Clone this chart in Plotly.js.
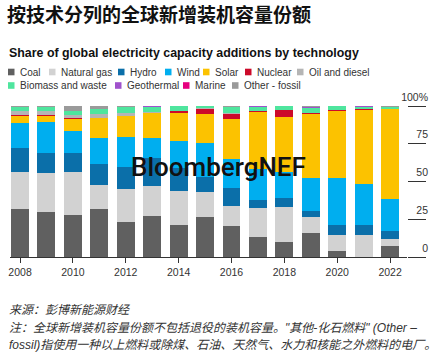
<!DOCTYPE html>
<html><head><meta charset="utf-8">
<script src="https://cdn.plot.ly/plotly-3.0.1.min.js"></script>
<style>html,body{margin:0;padding:0;background:#fff;}#chart{width:441px;height:359px;}</style>
</head><body><div id="chart"></div>
<script>
const years = [2008,2009,2010,2011,2012,2013,2014,2015,2016,2017,2018,2019,2020,2021,2022];
const coal        = [32.0,29.6,27.5,32.1,22.9,27.1,21.5,26.6,20.4,13.3,10.0,16.2, 3.8, 0.3, 7.1];
const naturalGas  = [24.0,26.3,29.0,15.6,21.9,20.2,22.5,16.6,13.4,19.3,22.8,10.4,10.6,14.1, 5.1];
const hydro       = [16.4,12.8,12.2,13.7,14.9,18.1,14.7, 9.6,12.2, 5.1, 6.4, 4.0, 6.7, 6.7, 5.1];
const wind        = [16.6,20.4,14.9,17.6,19.8,13.1,18.2,22.4,18.6,20.3,16.8,21.9,31.0,27.0,21.1];
const solar       = [ 4.5, 4.4, 7.9,12.9,13.7,16.7,18.4,19.7,26.8,38.0,36.7,41.9,44.8,49.0,59.3];
const nuclear     = [ 0.3, 0.3, 0.3, 0.3, 0.2, 0.3, 1.3, 3.4, 3.5, 0.8, 4.4, 0.8, 0.3, 0.8, 0.2];
const oilDiesel   = [ 2.7, 2.7, 2.2, 2.5, 2.1, 0.8, 0.2, 0.2, 0.4, 0.2, 0.3, 0.3, 0.2, 0.2, 0.2];
const biomass     = [ 2.7, 2.8, 2.7, 3.1, 3.9, 3.2, 3.0, 1.3, 4.0, 2.6, 2.3, 3.5, 2.4, 1.3, 1.2];
const geothermal  = [ 0.3, 0.2, 0.2, 0.2, 0.2, 0.2, 0.2, 0.1, 0.2, 0.2, 0.2, 0.3, 0.2, 0.3, 0.3];
const marine      = [ 0.0, 0.0, 0.0, 0.0, 0.0, 0.0, 0.0, 0.0, 0.0, 0.0, 0.0, 0.0, 0.0, 0.0, 0.0];
const otherFossil = [ 0.5, 0.5, 3.1, 2.0, 0.4, 0.3, 0.0, 0.1, 0.5, 0.2, 0.1, 0.7, 0.0, 0.3, 0.4];

const seriesNames = ['Coal','Natural gas','Hydro','Wind','Solar','Nuclear','Oil and diesel','Biomass and waste','Geothermal','Marine','Other - fossil'];
const seriesValues = [coal,naturalGas,hydro,wind,solar,nuclear,oilDiesel,biomass,geothermal,marine,otherFossil];
const seriesColors = ['#606060','#d2d2d2','#0b6fa9','#00aeef','#fcc200','#cc0a2a','#b5b5b5','#4fe59e','#a052cc','#e6007e','#9a9a9a'];

const yTickVals = [0,25,50,75,100];
const yTickText = ['0','25','50','75','100%'];

const titleText = '按技术分列的全球新增装机容量份额';
const subtitleText = 'Share of global electricity capacity additions by technology';
const sourceLines = ['来源：彭博新能源财经',
  '注：全球新增装机容量份额不包括退役的装机容量。"其他-化石燃料" (Other –',
  'fossil)指使用一种以上燃料或除煤、石油、天然气、水力和核能之外燃料的电厂。'];

// layout geometry (pixels)
const W=441,H=359,L=10,R=0,T=106,B=102;
const plotW=W-L-R, plotH=H-T-B;
const px = x => (x-L)/plotW;
const py = y => (H-B-y)/plotH;
const latin = 'Liberation Sans, Arial, sans-serif';
const cjk = 'Liberation Sans, Noto Sans CJK SC, sans-serif';

const traces = seriesNames.map((n,i)=>({
  type:'bar', x:years, y:seriesValues[i], name:n, width:0.68,
  marker:{color:seriesColors[i], line:{width:0}}, hoverinfo:'skip', showlegend:false
}));
// invisible helper trace carrying the label axis
traces.push({type:'scatter',x:[years[0]],y:[0],yaxis:'y2',mode:'markers',marker:{opacity:0},hoverinfo:'skip',showlegend:false});

const legendRows = [[0,1,2,3,4,5,6],[7,8,9,10]];
const legendX = [[8,49,118,165,203,245,297],[8,115,183,232]];
const legendY = [72,85.5];
const shapes=[], annotations=[];
legendRows.forEach((row,r)=>{
  row.forEach((idx,k)=>{
    const x0=legendX[r][k], yc=legendY[r];
    shapes.push({type:'rect',xref:'paper',yref:'paper',x0:px(x0),x1:px(x0+6.5),y0:py(yc+3.3),y1:py(yc-3.3),fillcolor:seriesColors[idx],line:{width:0}});
    annotations.push({xref:'paper',yref:'paper',x:px(x0+9.5),y:py(yc),xanchor:'left',yanchor:'middle',showarrow:false,text:seriesNames[idx],font:{family:latin,size:10,color:'#333'}});
  });
});
annotations.push({xref:'paper',yref:'paper',x:px(7),y:py(52.5),xanchor:'left',yanchor:'middle',showarrow:false,text:'<b>'+subtitleText+'</b>',font:{family:latin,size:12.4,color:'#111'}});
annotations.push({xref:'paper',yref:'paper',x:px(218),y:py(167),xanchor:'center',yanchor:'middle',showarrow:false,text:'BloombergNEF',font:{family:'Roboto, Liberation Sans, sans-serif',size:26,weight:500,color:'#111'}});
const srcY=[310,327.5,345];
sourceLines.forEach((t,i)=>annotations.push({xref:'paper',yref:'paper',x:px(7),y:py(srcY[i]),xanchor:'left',yanchor:'middle',showarrow:false,text:'<i>'+t+'</i>',font:{family:cjk,size:12,color:'#333'}}));

const layout = {
  width:W,height:H,margin:{l:L,r:R,t:T,b:B,pad:0},
  paper_bgcolor:'#fff',plot_bgcolor:'rgba(0,0,0,0)',barmode:'stack',showlegend:false,
  title:{text:'<b>'+titleText+'</b>',xref:'container',yref:'container',x:7/W,xanchor:'left',y:1-15/H,yanchor:'middle',font:{family:'Noto Sans CJK SC, sans-serif',size:19,color:'#111'}},
  xaxis:{domain:[0,397/plotW],range:[2007.62,2022.64],tickmode:'linear',tick0:2008,dtick:2,ticks:'outside',ticklen:5,tickcolor:'#333',tickwidth:1,
    showline:true,linecolor:'#333',linewidth:1,showgrid:false,zeroline:false,tickfont:{family:latin,size:10.5,color:'#333'},fixedrange:true},
  yaxis:{range:[0,100],anchor:'free',position:(426-L)/plotW,side:'left',tickmode:'array',tickvals:yTickVals,ticks:'outside',ticklen:18,tickcolor:'#333',tickwidth:1,
    showticklabels:false,showgrid:false,zeroline:false,showline:false,fixedrange:true},
  yaxis2:{range:[0,100],overlaying:'y',anchor:'free',position:(428-L)/plotW,side:'left',tickmode:'array',tickvals:yTickVals,ticktext:yTickText,ticks:'',
    ticklabelshift:-9,showgrid:false,zeroline:false,showline:false,tickfont:{family:latin,size:10.5,color:'#333'},fixedrange:true},
  shapes:shapes,annotations:annotations
};
Plotly.newPlot('chart',traces,layout,{staticPlot:true,displayModeBar:false});
</script></body></html>
